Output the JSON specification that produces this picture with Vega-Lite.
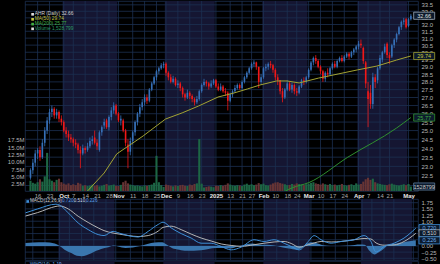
{
"$schema":"https://vega.github.io/schema/vega-lite/v6.json",
"background":"#000000",
"padding":{"left":6,"top":0,"right":0,"bottom":0},
"config":{"view":{"stroke":"#1c3050","strokeWidth":0.8},"font":"Liberation Sans","axis":{"domain":false,"ticks":false,"grid":false,"title":null,"labelOverlap":false,"tickCount":200,"labelFont":"Liberation Sans","labelFontSize":6,"labelColor":"#b4b4b4"},"axisX":{"labelOverlap":false,"labelFlush":false}},
"datasets":{
"months":[{"a":10.5,"b":33.5},{"a":53.5,"b":74.5},{"a":94.5,"b":113.5},{"a":134.5,"b":155.5}],
"vgrid":[{"g":0},{"g":5},{"g":11},{"g":15},{"g":20},{"g":25},{"g":30},{"g":34},{"g":40},{"g":45},{"g":50},{"g":54},{"g":59},{"g":64},{"g":69},{"g":75},{"g":81},{"g":86},{"g":90},{"g":95},{"g":100},{"g":105},{"g":109},{"g":114},{"g":119},{"g":124},{"g":129},{"g":135},{"g":139},{"g":144},{"g":148},{"g":156}],
"pgrid":[{"p":22},{"p":22.5},{"p":23},{"p":23.5},{"p":24},{"p":24.5},{"p":25},{"p":25.5},{"p":26},{"p":26.5},{"p":27},{"p":27.5},{"p":28},{"p":28.5},{"p":29},{"p":29.5},{"p":30},{"p":30.5},{"p":31},{"p":31.5},{"p":32},{"p":32.5},{"p":33},{"p":33.5}],
"mgrid":[{"p":-0.5},{"p":-0.25},{"p":0},{"p":0.25},{"p":0.5},{"p":0.75},{"p":1},{"p":1.25},{"p":1.5},{"p":1.75}],
"candles":[
{"i":-3,"o":22.4,"h":22.9,"l":22.3,"c":22.8,"v":3.5},
{"i":-2,"o":22.8,"h":23.4,"l":22.6,"c":23.2,"v":2.8},
{"i":-1,"o":23.2,"h":23.9,"l":23.0,"c":23.7,"v":2.5},
{"i":0,"o":23.7,"h":24.0,"l":23.4,"c":23.9,"v":3.0},
{"i":1,"o":23.9,"h":24.1,"l":23.3,"c":23.5,"v":4.0},
{"i":2,"o":23.5,"h":24.5,"l":23.4,"c":24.3,"v":3.2},
{"i":3,"o":24.3,"h":25.2,"l":24.1,"c":25.0,"v":5.0},
{"i":4,"o":25.0,"h":25.8,"l":24.8,"c":25.6,"v":13.0},
{"i":5,"o":25.6,"h":26.3,"l":25.4,"c":26.1,"v":4.0},
{"i":6,"o":26.1,"h":26.5,"l":25.8,"c":26.3,"v":3.5},
{"i":7,"o":26.3,"h":26.4,"l":25.7,"c":25.9,"v":3.0},
{"i":8,"o":25.9,"h":26.3,"l":25.7,"c":26.1,"v":3.8},
{"i":9,"o":26.1,"h":26.2,"l":25.5,"c":25.7,"v":4.2},
{"i":10,"o":25.7,"h":25.9,"l":25.3,"c":25.5,"v":3.0},
{"i":11,"o":25.5,"h":25.6,"l":24.9,"c":25.0,"v":2.5},
{"i":12,"o":25.0,"h":25.2,"l":24.6,"c":24.8,"v":2.2},
{"i":13,"o":24.8,"h":25.0,"l":24.4,"c":24.6,"v":2.6},
{"i":14,"o":24.6,"h":24.8,"l":24.3,"c":24.5,"v":2.0},
{"i":15,"o":24.5,"h":24.6,"l":24.1,"c":24.3,"v":2.3},
{"i":16,"o":24.3,"h":24.5,"l":24.0,"c":24.2,"v":2.0},
{"i":17,"o":24.2,"h":24.3,"l":23.7,"c":23.9,"v":2.8},
{"i":18,"o":23.9,"h":24.1,"l":22.9,"c":23.7,"v":2.5},
{"i":19,"o":23.7,"h":24.2,"l":23.6,"c":24.0,"v":1.8},
{"i":20,"o":24.0,"h":24.1,"l":23.7,"c":23.9,"v":2.0},
{"i":21,"o":23.9,"h":24.3,"l":23.8,"c":24.1,"v":1.7},
{"i":22,"o":24.1,"h":24.6,"l":24.0,"c":24.4,"v":1.9},
{"i":23,"o":24.4,"h":24.7,"l":24.2,"c":24.5,"v":2.2},
{"i":24,"o":24.6,"h":25.0,"l":24.2,"c":24.3,"v":1.8},
{"i":25,"o":24.3,"h":24.5,"l":23.9,"c":24.1,"v":2.0},
{"i":26,"o":23.9,"h":25.0,"l":23.8,"c":24.9,"v":1.6},
{"i":27,"o":24.9,"h":25.3,"l":24.7,"c":25.2,"v":1.8},
{"i":28,"o":25.3,"h":25.7,"l":25.1,"c":25.5,"v":2.1},
{"i":29,"o":25.6,"h":25.7,"l":25.1,"c":25.2,"v":2.4},
{"i":30,"o":25.2,"h":25.9,"l":25.0,"c":25.8,"v":1.9},
{"i":31,"o":25.8,"h":26.4,"l":25.6,"c":26.2,"v":2.0},
{"i":32,"o":26.2,"h":26.7,"l":26.0,"c":26.5,"v":2.2},
{"i":33,"o":26.5,"h":26.6,"l":25.9,"c":26.0,"v":1.8},
{"i":34,"o":26.0,"h":26.1,"l":25.5,"c":25.6,"v":1.7},
{"i":35,"o":25.6,"h":25.9,"l":25.3,"c":25.7,"v":2.1},
{"i":36,"o":25.6,"h":25.7,"l":24.9,"c":25.0,"v":3.0},
{"i":37,"o":25.0,"h":25.1,"l":24.1,"c":24.3,"v":3.5},
{"i":38,"o":24.2,"h":24.5,"l":22.9,"c":23.8,"v":2.6},
{"i":39,"o":23.8,"h":24.6,"l":23.6,"c":24.4,"v":2.2},
{"i":40,"o":24.4,"h":25.0,"l":24.2,"c":24.9,"v":2.0},
{"i":41,"o":24.9,"h":25.6,"l":24.7,"c":25.5,"v":1.8},
{"i":42,"o":25.5,"h":26.1,"l":25.3,"c":26.0,"v":1.9},
{"i":43,"o":26.0,"h":26.6,"l":25.8,"c":26.4,"v":1.7},
{"i":44,"o":26.4,"h":26.9,"l":26.2,"c":26.7,"v":1.6},
{"i":45,"o":26.7,"h":27.2,"l":26.5,"c":27.0,"v":1.9},
{"i":46,"o":27.0,"h":27.2,"l":26.6,"c":26.8,"v":1.8},
{"i":47,"o":26.8,"h":27.6,"l":26.7,"c":27.5,"v":2.0},
{"i":48,"o":27.5,"h":28.0,"l":27.4,"c":27.9,"v":2.2},
{"i":49,"o":27.9,"h":28.4,"l":27.8,"c":28.3,"v":2.8},
{"i":50,"o":28.3,"h":28.8,"l":28.1,"c":28.7,"v":12.0},
{"i":51,"o":28.7,"h":29.0,"l":28.5,"c":28.9,"v":3.0},
{"i":52,"o":28.9,"h":29.25,"l":28.8,"c":29.1,"v":2.0},
{"i":53,"o":29.1,"h":29.35,"l":28.9,"c":29.2,"v":1.4},
{"i":54,"o":29.2,"h":29.3,"l":28.4,"c":28.6,"v":2.2},
{"i":55,"o":28.6,"h":28.7,"l":28.1,"c":28.3,"v":2.0},
{"i":56,"o":28.3,"h":28.5,"l":27.9,"c":28.0,"v":1.8},
{"i":57,"o":28.0,"h":28.4,"l":27.9,"c":28.2,"v":1.6},
{"i":58,"o":28.2,"h":28.3,"l":27.7,"c":27.8,"v":1.9},
{"i":59,"o":27.8,"h":28.1,"l":27.6,"c":27.9,"v":1.7},
{"i":60,"o":27.9,"h":28.0,"l":27.4,"c":27.6,"v":2.0},
{"i":61,"o":27.6,"h":27.7,"l":27.0,"c":27.2,"v":2.1},
{"i":62,"o":27.2,"h":27.3,"l":26.8,"c":27.0,"v":1.8},
{"i":63,"o":27.0,"h":27.5,"l":26.9,"c":27.3,"v":1.7},
{"i":64,"o":27.3,"h":27.4,"l":26.9,"c":27.1,"v":2.2},
{"i":65,"o":27.1,"h":27.2,"l":26.7,"c":26.9,"v":2.0},
{"i":66,"o":26.9,"h":27.0,"l":26.5,"c":26.7,"v":2.4},
{"i":67,"o":26.7,"h":27.1,"l":26.6,"c":26.9,"v":2.6},
{"i":68,"o":26.9,"h":27.5,"l":26.8,"c":27.4,"v":17.7},
{"i":69,"o":27.4,"h":27.9,"l":27.3,"c":27.8,"v":2.5},
{"i":70,"o":27.8,"h":28.2,"l":27.7,"c":28.0,"v":1.2},
{"i":71,"o":28.0,"h":28.1,"l":27.7,"c":27.9,"v":1.4},
{"i":72,"o":27.9,"h":28.0,"l":27.5,"c":27.7,"v":1.6},
{"i":73,"o":27.7,"h":28.1,"l":27.6,"c":27.9,"v":1.5},
{"i":74,"o":27.9,"h":28.2,"l":27.8,"c":28.1,"v":1.3},
{"i":75,"o":28.1,"h":28.2,"l":27.6,"c":27.7,"v":1.8},
{"i":76,"o":27.7,"h":27.9,"l":27.4,"c":27.5,"v":1.7},
{"i":77,"o":27.5,"h":27.9,"l":27.4,"c":27.7,"v":2.0},
{"i":78,"o":27.7,"h":27.8,"l":27.3,"c":27.4,"v":1.8},
{"i":79,"o":27.4,"h":27.6,"l":27.1,"c":27.3,"v":2.1},
{"i":80,"o":27.3,"h":27.4,"l":26.2,"c":26.8,"v":2.6},
{"i":81,"o":26.8,"h":27.3,"l":26.7,"c":27.2,"v":2.2},
{"i":82,"o":27.2,"h":27.5,"l":27.0,"c":27.4,"v":1.9},
{"i":83,"o":27.4,"h":27.8,"l":27.3,"c":27.6,"v":1.8},
{"i":84,"o":27.6,"h":27.9,"l":27.5,"c":27.8,"v":2.0},
{"i":85,"o":27.8,"h":27.9,"l":27.5,"c":27.6,"v":1.9},
{"i":86,"o":27.6,"h":28.1,"l":27.5,"c":28.0,"v":1.7},
{"i":87,"o":28.0,"h":28.4,"l":27.9,"c":28.3,"v":2.2},
{"i":88,"o":28.3,"h":28.7,"l":28.2,"c":28.6,"v":2.5},
{"i":89,"o":28.6,"h":29.0,"l":28.5,"c":28.9,"v":2.1},
{"i":90,"o":28.9,"h":29.3,"l":28.8,"c":29.2,"v":2.3},
{"i":91,"o":29.2,"h":29.45,"l":29.0,"c":29.3,"v":2.0},
{"i":92,"o":29.3,"h":29.35,"l":28.8,"c":29.0,"v":2.2},
{"i":93,"o":29.0,"h":29.0,"l":27.6,"c":28.0,"v":2.7},
{"i":94,"o":28.0,"h":28.5,"l":27.8,"c":28.3,"v":2.3},
{"i":95,"o":28.3,"h":29.0,"l":28.2,"c":28.9,"v":2.5},
{"i":96,"o":28.9,"h":29.2,"l":28.7,"c":29.0,"v":2.0},
{"i":97,"o":29.0,"h":29.3,"l":28.8,"c":29.2,"v":1.9},
{"i":98,"o":29.2,"h":29.4,"l":28.9,"c":29.1,"v":2.2},
{"i":99,"o":29.1,"h":29.2,"l":28.6,"c":28.8,"v":2.6},
{"i":100,"o":28.8,"h":28.9,"l":28.1,"c":28.3,"v":2.9},
{"i":101,"o":28.3,"h":28.5,"l":27.8,"c":28.1,"v":3.0},
{"i":102,"o":28.1,"h":28.1,"l":27.2,"c":27.4,"v":2.7},
{"i":103,"o":27.4,"h":27.6,"l":26.7,"c":27.0,"v":2.5},
{"i":104,"o":27.0,"h":27.6,"l":26.9,"c":27.5,"v":2.3},
{"i":105,"o":27.5,"h":28.1,"l":27.4,"c":27.9,"v":2.0},
{"i":106,"o":27.9,"h":28.0,"l":27.4,"c":27.5,"v":2.1},
{"i":107,"o":27.5,"h":27.96,"l":27.3,"c":27.8,"v":2.4},
{"i":108,"o":27.8,"h":27.9,"l":27.2,"c":27.4,"v":2.2},
{"i":109,"o":27.4,"h":27.6,"l":27.1,"c":27.3,"v":2.6},
{"i":110,"o":27.3,"h":27.8,"l":27.2,"c":27.7,"v":2.4},
{"i":111,"o":27.7,"h":28.2,"l":27.6,"c":28.1,"v":2.2},
{"i":112,"o":28.1,"h":28.3,"l":27.8,"c":28.0,"v":2.0},
{"i":113,"o":28.0,"h":28.4,"l":27.9,"c":28.3,"v":2.3},
{"i":114,"o":28.3,"h":28.9,"l":28.2,"c":28.8,"v":2.5},
{"i":115,"o":28.8,"h":29.4,"l":28.7,"c":29.3,"v":2.8},
{"i":116,"o":29.3,"h":29.7,"l":29.1,"c":29.6,"v":3.0},
{"i":117,"o":29.6,"h":29.8,"l":29.2,"c":29.4,"v":2.6},
{"i":118,"o":29.4,"h":29.5,"l":28.9,"c":29.0,"v":2.4},
{"i":119,"o":29.0,"h":29.1,"l":28.5,"c":28.7,"v":2.2},
{"i":120,"o":28.7,"h":28.8,"l":28.0,"c":28.2,"v":2.6},
{"i":121,"o":28.2,"h":28.7,"l":28.0,"c":28.6,"v":2.3},
{"i":122,"o":28.6,"h":28.9,"l":28.3,"c":28.5,"v":2.1},
{"i":123,"o":28.5,"h":29.0,"l":28.4,"c":28.9,"v":2.4},
{"i":124,"o":28.9,"h":29.3,"l":28.8,"c":29.2,"v":2.0},
{"i":125,"o":29.2,"h":29.4,"l":28.9,"c":29.0,"v":2.2},
{"i":126,"o":29.0,"h":29.5,"l":28.9,"c":29.4,"v":1.9},
{"i":127,"o":29.4,"h":29.7,"l":29.3,"c":29.6,"v":2.1},
{"i":128,"o":29.6,"h":29.8,"l":29.3,"c":29.4,"v":2.4},
{"i":129,"o":29.4,"h":29.8,"l":29.3,"c":29.7,"v":2.0},
{"i":130,"o":29.7,"h":30.0,"l":29.6,"c":29.9,"v":1.8},
{"i":131,"o":29.9,"h":30.0,"l":29.5,"c":29.7,"v":2.1},
{"i":132,"o":29.7,"h":30.1,"l":29.6,"c":30.0,"v":2.3},
{"i":133,"o":30.0,"h":30.3,"l":29.8,"c":30.2,"v":2.0},
{"i":134,"o":30.2,"h":30.5,"l":30.0,"c":30.4,"v":2.6},
{"i":135,"o":30.4,"h":30.8,"l":30.2,"c":30.6,"v":2.2},
{"i":136,"o":30.6,"h":30.9,"l":30.3,"c":30.5,"v":2.4},
{"i":137,"o":30.3,"h":30.4,"l":29.2,"c":29.4,"v":3.2},
{"i":138,"o":29.3,"h":29.4,"l":27.6,"c":27.9,"v":4.0},
{"i":139,"o":27.4,"h":28.0,"l":25.2,"c":26.9,"v":4.5},
{"i":140,"o":27.3,"h":27.8,"l":26.3,"c":26.6,"v":3.8},
{"i":141,"o":26.6,"h":28.6,"l":26.3,"c":28.3,"v":4.2},
{"i":142,"o":28.3,"h":28.5,"l":27.6,"c":28.0,"v":3.0},
{"i":143,"o":28.1,"h":29.0,"l":27.9,"c":28.9,"v":2.6},
{"i":144,"o":28.9,"h":29.8,"l":28.8,"c":29.6,"v":2.4},
{"i":145,"o":29.5,"h":30.1,"l":29.3,"c":30.0,"v":2.2},
{"i":146,"o":30.0,"h":30.6,"l":29.9,"c":30.4,"v":2.1},
{"i":147,"o":30.6,"h":30.7,"l":29.6,"c":29.8,"v":2.0},
{"i":148,"o":29.8,"h":30.0,"l":29.2,"c":29.6,"v":2.3},
{"i":149,"o":29.7,"h":30.6,"l":29.6,"c":30.5,"v":2.5},
{"i":150,"o":30.5,"h":31.0,"l":30.3,"c":30.9,"v":2.2},
{"i":151,"o":30.9,"h":31.4,"l":30.7,"c":31.3,"v":2.0},
{"i":152,"o":31.3,"h":31.9,"l":31.2,"c":31.8,"v":1.9},
{"i":153,"o":31.8,"h":32.3,"l":31.6,"c":32.2,"v":2.1},
{"i":154,"o":32.2,"h":32.5,"l":32.0,"c":32.3,"v":2.3},
{"i":155,"o":32.4,"h":32.5,"l":31.7,"c":31.8,"v":2.0},
{"i":156,"o":31.9,"h":32.5,"l":31.8,"c":32.4,"v":2.4},
{"i":157,"o":32.4,"h":32.8,"l":32.3,"c":32.66,"v":1.528799}
],
"ma50":[{"i":18,"p":21.3},{"i":21,"p":21.72},{"i":28,"p":22.65},{"i":33.3,"p":23.68},{"i":38.2,"p":24.12},{"i":44.4,"p":24.69},{"i":53.8,"p":25.68},{"i":60.8,"p":26.05},{"i":67.7,"p":26.47},{"i":75.9,"p":27.03},{"i":82.5,"p":27.28},{"i":88.2,"p":27.54},{"i":93.6,"p":27.8},{"i":100.5,"p":28.06},{"i":105,"p":28.06},{"i":110,"p":27.93},{"i":118.2,"p":28.25},{"i":126.4,"p":28.52},{"i":134.5,"p":28.79},{"i":142.7,"p":29.05},{"i":151,"p":29.46},{"i":157,"p":29.74}],
"ma200":[{"i":102,"p":21.5},{"i":104.3,"p":21.72},{"i":107.1,"p":21.88},{"i":114.1,"p":22.15},{"i":130.5,"p":23.5},{"i":151,"p":25.15},{"i":157,"p":25.77}],
"macd":[{"i":-3,"m":1.34,"s":1.21},{"i":2,"m":1.5,"s":1.35},{"i":9.5,"m":1.69,"s":1.6},{"i":11,"m":1.65,"s":1.62},{"i":14.5,"m":1.34,"s":1.5},{"i":18.6,"m":0.93,"s":1.2},{"i":22.7,"m":0.66,"s":0.95},{"i":26.8,"m":0.46,"s":0.73},{"i":29.2,"m":0.42,"s":0.62},{"i":32.9,"m":0.59,"s":0.52},{"i":35.4,"m":0.52,"s":0.48},{"i":39.1,"m":0.42,"s":0.42},{"i":43.2,"m":0.36,"s":0.38},{"i":47.3,"m":0.59,"s":0.42},{"i":51.4,"m":0.87,"s":0.6},{"i":53.4,"m":0.96,"s":0.75},{"i":56.7,"m":0.73,"s":0.8},{"i":60.8,"m":0.5,"s":0.66},{"i":64.9,"m":0.32,"s":0.48},{"i":69,"m":0.11,"s":0.32},{"i":73.1,"m":0.11,"s":0.2},{"i":77.2,"m":-0.02,"s":0.08},{"i":81.3,"m":-0.16,"s":0.02},{"i":85.4,"m":-0.05,"s":-0.02},{"i":90.7,"m":0.25,"s":0.05},{"i":94.8,"m":0.18,"s":0.11},{"i":98.9,"m":0.25,"s":0.16},{"i":103,"m":0.11,"s":0.18},{"i":105.9,"m":-0.02,"s":0.1},{"i":109.2,"m":-0.16,"s":-0.05},{"i":112.9,"m":0.18,"s":0.05},{"i":115.3,"m":0.42,"s":0.12},{"i":118.2,"m":0.25,"s":0.18},{"i":122.3,"m":0.11,"s":0.16},{"i":126.4,"m":0.18,"s":0.18},{"i":131.7,"m":0.25,"s":0.25},{"i":135.8,"m":0.42,"s":0.3},{"i":138.6,"m":0.18,"s":0.28},{"i":140.7,"m":-0.25,"s":0.12},{"i":144,"m":-0.02,"s":0.03},{"i":148.1,"m":0.11,"s":0.04},{"i":152.2,"m":0.32,"s":0.18},{"i":157,"m":0.72,"s":0.51}],
"hist":[{"i":-3,"h":0.12},{"i":0,"h":0.14},{"i":5,"h":0.15},{"i":9,"h":0.1},{"i":11,"h":0.0},{"i":13,"h":-0.15},{"i":16,"h":-0.3},{"i":18,"h":-0.4},{"i":20,"h":-0.42},{"i":22,"h":-0.38},{"i":24,"h":-0.3},{"i":26,"h":-0.2},{"i":28,"h":-0.12},{"i":31,"h":-0.05},{"i":33,"h":0.02},{"i":35,"h":-0.02},{"i":38,"h":-0.08},{"i":41,"h":-0.06},{"i":44,"h":0.0},{"i":47,"h":0.08},{"i":50,"h":0.14},{"i":53,"h":0.15},{"i":55,"h":0.05},{"i":57,"h":-0.08},{"i":60,"h":-0.15},{"i":63,"h":-0.2},{"i":66,"h":-0.2},{"i":69,"h":-0.18},{"i":72,"h":-0.12},{"i":75,"h":-0.08},{"i":78,"h":-0.08},{"i":81,"h":-0.1},{"i":84,"h":-0.02},{"i":87,"h":0.06},{"i":90,"h":0.1},{"i":93,"h":0.06},{"i":96,"h":0.05},{"i":99,"h":0.02},{"i":102,"h":-0.05},{"i":105,"h":-0.1},{"i":108,"h":-0.15},{"i":110,"h":-0.1},{"i":112,"h":0.08},{"i":114,"h":0.15},{"i":116,"h":0.12},{"i":119,"h":0.03},{"i":122,"h":0.0},{"i":126,"h":0.0},{"i":130,"h":0.02},{"i":134,"h":0.06},{"i":136,"h":0.05},{"i":138,"h":-0.2},{"i":140,"h":-0.35},{"i":142,"h":-0.25},{"i":144,"h":-0.1},{"i":146,"h":0.05},{"i":149,"h":0.1},{"i":152,"h":0.15},{"i":155,"h":0.2},{"i":157,"h":0.226}]
},
"spacing":8,
"bounds":"flush",
"vconcat":[
{
"width":393,"height":190,
"layer":[
{"data":{"name":"months"},"mark":{"type":"rect","color":"#151632"},
 "encoding":{"x":{"field":"a","type":"quantitative","scale":{"domain":[-3.2,157.9],"nice":false,"zero":false},
  "axis":{"orient":"bottom","tickCount":200,"values":[0,5,11,15,20,25,30,34,40,45,50,54,59,64,69,75,81,86,90,95,100,105,109,114,119,124,129,135,139,144,148,156],
   "labelExpr":"['16','23','Oct','7','14','21','28','Nov','11','18','25','Dec','9','16','23','2025','13','21','27','Feb','10','18','24','Mar','10','17','24','Apr','7','14','21','May'][indexof([0,5,11,15,20,25,30,34,40,45,50,54,59,64,69,75,81,86,90,95,100,105,109,114,119,124,129,135,139,144,148,156],datum.value)]",
   "labelPadding":1,"labelOverlap":false,"labelFlush":false,"labelBound":false,
   "labelFontWeight":{"condition":{"test":"indexof([11,34,54,75,95,114,135,156],datum.value)>=0","value":"bold"},"value":"normal"},
   "labelColor":{"condition":{"test":"indexof([11,34,54,75,95,114,135,156],datum.value)>=0","value":"#e8e8e8"},"value":"#a8a8a8"}}},
  "x2":{"field":"b"}}},
{"data":{"name":"vgrid"},"mark":{"type":"rule","color":"#1c3050","strokeWidth":0.8},"encoding":{"x":{"field":"g","type":"quantitative","scale":{"domain":[-3.2,157.9],"nice":false,"zero":false}}}},
{"data":{"name":"pgrid"},"mark":{"type":"rule","color":"#1c3050","strokeWidth":0.8},"encoding":{"y":{"field":"p","type":"quantitative","scale":{"type":"log","domain":[21.72,33.8],"nice":false,"zero":false},"axis":null}}},
{"data":{"name":"candles"},
 "layer":[
 {"mark":{"type":"bar","size":2.1},
  "encoding":{"x":{"field":"i","type":"quantitative","scale":{"domain":[-3.2,157.9],"nice":false,"zero":false}},
   "y":{"field":"v","type":"quantitative","scale":{"domain":[0,64.8],"nice":false,"zero":true},
    "axis":{"orient":"left","tickCount":200,"values":[2.5,5,7.5,10,12.5,15,17.5],"labelExpr":"format(datum.value,'.1f')+'M'","labelPadding":1}},
   "color":{"condition":{"test":"datum.c>=datum.o","value":"#1d6644"},"value":"#663434"}}},
 {"transform":[{"filter":"datum.i==157"}],"mark":{"type":"point","shape":"M-1,-0.34H1V0.34H-1Z","filled":true,"fill":"#0c1a2c","stroke":"#5a7a9a","strokeWidth":0.8,"size":441,"opacity":1,"clip":false},
  "encoding":{"x":{"datum":162.6},"y":{"field":"v","type":"quantitative"}}},
 {"transform":[{"filter":"datum.i==157"}],"mark":{"type":"text","fontSize":5.5,"color":"#c8c8c8","clip":false},
  "encoding":{"x":{"datum":162.6},"y":{"field":"v","type":"quantitative"},"text":{"value":"1528799"}}}
 ]},
{"layer":[
 {"data":{"name":"candles"},"mark":{"type":"rule","strokeWidth":0.8},
  "encoding":{"x":{"field":"i","type":"quantitative","scale":{"domain":[-3.2,157.9],"nice":false,"zero":false}},
   "y":{"field":"l","type":"quantitative","scale":{"type":"log","domain":[21.72,33.8],"nice":false,"zero":false},
    "axis":{"orient":"right","tickCount":200,"values":[22,22.5,23,23.5,24,24.5,25,25.5,26,26.5,27,27.5,28,28.5,29,29.5,30,30.5,31,31.5,32,32.5,33,33.5],"format":".1f","labelPadding":3}},
   "y2":{"field":"h"},
   "color":{"condition":{"test":"datum.c>=datum.o","value":"#3670b8"},"value":"#f01818"}}},
 {"data":{"name":"candles"},"mark":{"type":"bar","size":1.6},
  "encoding":{"x":{"field":"i","type":"quantitative"},"y":{"field":"o","type":"quantitative"},"y2":{"field":"c"},
   "color":{"condition":{"test":"datum.c>=datum.o","value":"#3670b8"},"value":"#f01818"}}},
 {"data":{"name":"ma50"},"mark":{"type":"line","color":"#a3a332","strokeWidth":1,"clip":true},
  "encoding":{"x":{"field":"i","type":"quantitative"},"y":{"field":"p","type":"quantitative"}}},
 {"data":{"name":"ma200"},"mark":{"type":"line","color":"#2f8f2f","strokeWidth":1,"clip":true,"interpolate":"monotone"},
  "encoding":{"x":{"field":"i","type":"quantitative"},"y":{"field":"p","type":"quantitative"}}},
 {"data":{"values":[{"p":32.66,"t":"32.66","k":"a"},{"p":29.74,"t":"29.74","k":"b"},{"p":25.77,"t":"25.77","k":"c"}]},
  "mark":{"type":"point","shape":"M-1,-0.34H1V0.34H-1Z","filled":true,"fill":"#0c1a2c","strokeWidth":0.8,"size":441,"opacity":1,"clip":false},
  "encoding":{"x":{"datum":162.6},"y":{"field":"p","type":"quantitative"},
   "stroke":{"field":"k","type":"nominal","scale":{"domain":["a","b","c"],"range":["#9aa8b8","#a3a332","#2f8f2f"]},"legend":null}}},
 {"data":{"values":[{"p":32.66,"t":"32.66","k":"a"},{"p":29.74,"t":"29.74","k":"b"},{"p":25.77,"t":"25.77","k":"c"}]},
  "mark":{"type":"text","fontSize":5.5,"clip":false},
  "encoding":{"x":{"datum":162.6},"y":{"field":"p","type":"quantitative"},"text":{"field":"t"},
   "color":{"field":"k","type":"nominal","scale":{"domain":["a","b","c"],"range":["#e0e0e0","#c8c840","#40b040"]},"legend":null}}},
 {"data":{"values":[{"k":"a","p":32.77},{"k":"b","p":32.39},{"k":"c","p":32.03},{"k":"d","p":31.68}]},
  "mark":{"type":"point","shape":"square","filled":true,"size":7,"opacity":1},
  "encoding":{"x":{"datum":-2.1},"y":{"field":"p","type":"quantitative"},
   "color":{"field":"k","type":"nominal","scale":{"domain":["a","b","c","d"],"range":["#3670b8","#c0c040","#40b040","#2e9a64"]},"legend":null}}},
 {"data":{"values":[{"t":"AHR (Daily) 32.66"}]},"mark":{"type":"text","align":"left","fontSize":4.8,"color":"#d0d0d0"},
  "encoding":{"x":{"datum":-1.2},"y":{"datum":32.77},"text":{"field":"t"}}},
 {"data":{"values":[{"t":"MA(50) 29.74"}]},"mark":{"type":"text","align":"left","fontSize":4.8,"color":"#c0c040"},
  "encoding":{"x":{"datum":-1.2},"y":{"datum":32.39},"text":{"field":"t"}}},
 {"data":{"values":[{"t":"MA(200) 25.77"}]},"mark":{"type":"text","align":"left","fontSize":4.8,"color":"#40b040"},
  "encoding":{"x":{"datum":-1.2},"y":{"datum":32.03},"text":{"field":"t"}}},
 {"data":{"values":[{"t":"Volume 1,528,799"}]},"mark":{"type":"text","align":"left","fontSize":4.8,"color":"#2e9a64"},
  "encoding":{"x":{"datum":-1.2},"y":{"datum":31.68},"text":{"field":"t"}}}
]}
],
"resolve":{"scale":{"y":"independent","color":"independent","stroke":"independent"}}
},
{
"spacing":1,
"bounds":"flush",
"vconcat":[
{
"width":393,"height":61,
"layer":[
{"data":{"name":"months"},"mark":{"type":"rect","color":"#151632"},
 "encoding":{"x":{"field":"a","type":"quantitative","scale":{"domain":[-3.2,157.9],"nice":false,"zero":false},"axis":null},"x2":{"field":"b"}}},
{"data":{"name":"vgrid"},"mark":{"type":"rule","color":"#1c3050","strokeWidth":0.8},"encoding":{"x":{"field":"g","type":"quantitative"}}},
{"data":{"name":"mgrid"},"mark":{"type":"rule","color":"#1c3050","strokeWidth":0.8},
 "encoding":{"y":{"field":"p","type":"quantitative","scale":{"domain":[-0.57,1.9],"nice":false,"zero":false},
  "axis":{"orient":"right","tickCount":200,"values":[-0.5,-0.25,0,0.25,0.5,0.75,1,1.25,1.5,1.75],"format":".2f","labelPadding":3}}}},
{"data":{"name":"hist"},"mark":{"type":"area","color":"#3a76ae","interpolate":"monotone"},
 "encoding":{"x":{"field":"i","type":"quantitative"},"y":{"field":"h","type":"quantitative"},"y2":{"datum":0}}},
{"data":{"name":"macd"},"mark":{"type":"line","color":"#b4b4b4","strokeWidth":1,"interpolate":"monotone"},
 "encoding":{"x":{"field":"i","type":"quantitative"},"y":{"field":"s","type":"quantitative"}}},
{"data":{"name":"macd"},"mark":{"type":"line","color":"#3d8fd8","strokeWidth":1,"interpolate":"monotone"},
 "encoding":{"x":{"field":"i","type":"quantitative"},"y":{"field":"m","type":"quantitative"}}},
{"data":{"values":[{"p":0.72,"t":"0.720","k":"a"},{"p":0.51,"t":"0.510","k":"b"},{"p":0.226,"t":"0.226","k":"c"}]},
  "mark":{"type":"point","shape":"M-1,-0.34H1V0.34H-1Z","filled":true,"fill":"#0c1a2c","strokeWidth":0.8,"size":441,"opacity":1,"clip":false},
  "encoding":{"x":{"datum":162.6},"y":{"field":"p","type":"quantitative"},
   "stroke":{"field":"k","type":"nominal","scale":{"domain":["a","b","c"],"range":["#3d8fd8","#b4b4b4","#3d8fd8"]},"legend":null}}},
{"data":{"values":[{"p":0.72,"t":"0.720","k":"a"},{"p":0.51,"t":"0.510","k":"b"},{"p":0.226,"t":"0.226","k":"c"}]},
  "mark":{"type":"text","fontSize":5.5,"clip":false},
  "encoding":{"x":{"datum":162.6},"y":{"field":"p","type":"quantitative"},"text":{"field":"t"},
   "color":{"field":"k","type":"nominal","scale":{"domain":["a","b","c"],"range":["#6fb0f0","#d0d0d0","#6fb0f0"]},"legend":null}}},
{"data":{"values":[{"t":"MACD(12,26,9)"}]},"mark":{"type":"text","align":"left","fontSize":4.6,"color":"#d0d0d0"},
  "encoding":{"x":{"datum":-1.2},"y":{"datum":1.8},"text":{"field":"t"}}},
{"data":{"values":[{"t":"0.720,"}]},"mark":{"type":"text","align":"left","fontSize":4.6,"color":"#5aa0e8"},
  "encoding":{"x":{"datum":11.97},"y":{"datum":1.8},"text":{"field":"t"}}},
{"data":{"values":[{"t":"0.510,"}]},"mark":{"type":"text","align":"left","fontSize":4.6,"color":"#c8d8e8"},
  "encoding":{"x":{"datum":16.76},"y":{"datum":1.8},"text":{"field":"t"}}},
{"data":{"values":[{"t":"0.226"}]},"mark":{"type":"text","align":"left","fontSize":4.6,"color":"#5aa0e8"},
  "encoding":{"x":{"datum":21.8},"y":{"datum":1.8},"text":{"field":"t"}}},
{"data":{"values":[{"p":1.8}]},"mark":{"type":"point","shape":"square","filled":true,"size":7,"opacity":1,"color":"#3d8fd8"},
  "encoding":{"x":{"datum":-2.1},"y":{"field":"p","type":"quantitative"}}}
],
"resolve":{"scale":{"color":"independent","stroke":"independent"}}
},
{
"width":393,"height":14,
"layer":[
{"data":{"name":"months"},"mark":{"type":"rect","color":"#151632"},
 "encoding":{"x":{"field":"a","type":"quantitative","scale":{"domain":[-3.2,157.9],"nice":false,"zero":false},"axis":null},"x2":{"field":"b"}}},
{"data":{"values":[{"t":"W%R(14) -1.19"}]},"mark":{"type":"text","align":"left","baseline":"top","fontSize":4.6,"color":"#6fb0f0"},
  "encoding":{"x":{"datum":-1.2},"y":{"datum":0.9,"scale":{"domain":[0,1],"nice":false,"zero":false},"axis":null},"text":{"field":"t"}}}
]
}
]
}
]
}
